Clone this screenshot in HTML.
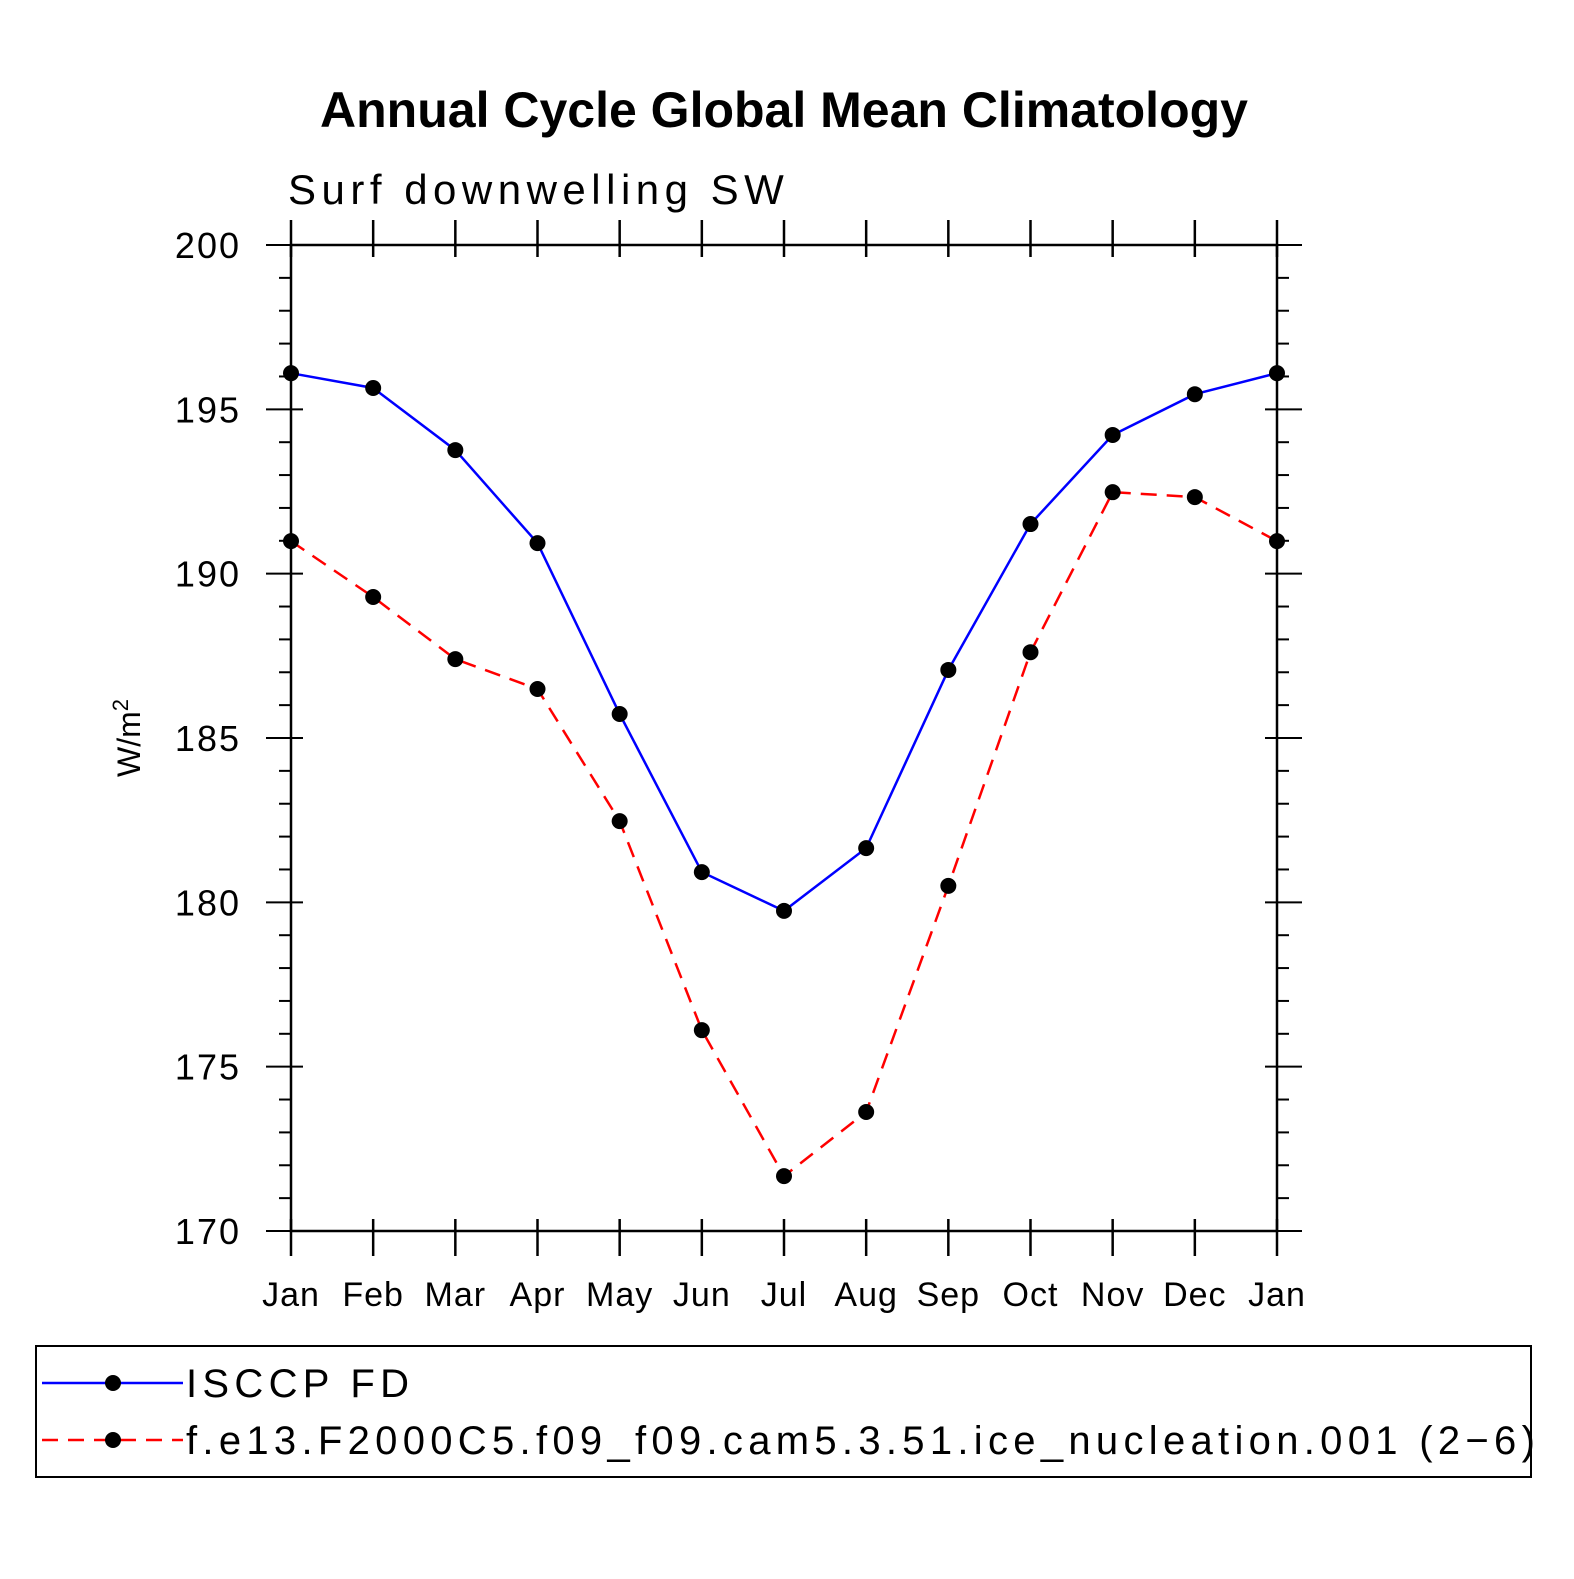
<!DOCTYPE html>
<html><head><meta charset="utf-8"><style>
html,body{margin:0;padding:0;background:#fff}
svg text{font-family:"Liberation Sans","DejaVu Sans",sans-serif}
</style></head><body>
<svg id="chart" width="1574" height="1574" viewBox="0 0 1574 1574" xmlns="http://www.w3.org/2000/svg">
<rect width="1574" height="1574" fill="#fff"/>
<text x="784" y="127" text-anchor="middle" font-size="50" font-weight="bold">Annual Cycle Global Mean Climatology</text>
<text x="288" y="204" font-size="42" letter-spacing="5.5">Surf downwelling SW</text>
<text transform="translate(140,738) rotate(-90)" text-anchor="middle" font-size="32">W/m<tspan dy="-12" font-size="22">2</tspan></text>
<g id="axes"></g>
<g id="series"></g>
<rect x="36" y="1346" width="1495" height="131" fill="none" stroke="#000" stroke-width="2"/>
<g>
<line x1="42" y1="1383" x2="183" y2="1383" stroke="#0000ff" stroke-width="2.5"/>
<circle cx="113" cy="1383" r="8" fill="#000"/>
<text x="186" y="1397" font-size="40" letter-spacing="5.3">ISCCP FD</text>
</g>
<g>
<line x1="42" y1="1440" x2="183" y2="1440" stroke="#ff0000" stroke-width="2.5" stroke-dasharray="16,10"/>
<circle cx="113" cy="1440" r="8" fill="#000"/>
<text x="186" y="1454" font-size="40" letter-spacing="5.3">f.e13.F2000C5.f09_f09.cam5.3.51.ice_nucleation.001 (2−6)</text>
</g>
</svg>
<script>
const months = ["Jan","Feb","Mar","Apr","May","Jun","Jul","Aug","Sep","Oct","Nov","Dec","Jan"];
const isccpValues = [196.1,195.65,193.76,190.93,185.73,180.92,179.74,181.65,187.07,191.51,194.22,195.46,196.1];
const camValues = [190.99,189.29,187.40,186.49,182.47,176.11,171.67,173.62,180.50,187.61,192.48,192.33,190.99];
const yTicks = [170,175,180,185,190,195,200];
const NS="http://www.w3.org/2000/svg";
const X0=291,X1=1277,Y0=1231,Y1=245,YMIN=170,YMAX=200;
function xs(i){return X0+(X1-X0)*i/(months.length-1);}
function ys(v){return Y0-(v-YMIN)/(YMAX-YMIN)*(Y0-Y1);}
function mk(tag,attrs,parent){const e=document.createElementNS(NS,tag);for(const k in attrs)e.setAttribute(k,attrs[k]);parent.appendChild(e);return e;}
const axes=document.getElementById('axes');
const frame=mk('rect',{x:X0,y:Y1,width:X1-X0,height:Y0-Y1,fill:'none',stroke:'#000','stroke-width':2.5},axes);


months.forEach((m,i)=>{
  const x=xs(i);
  mk('line',{x1:x,y1:Y0-12,x2:x,y2:Y0+25,stroke:'#000','stroke-width':2.5},axes);
  mk('line',{x1:x,y1:Y1+12,x2:x,y2:Y1-25,stroke:'#000','stroke-width':2.5},axes);
  const t=mk('text',{x:x,y:1306,'text-anchor':'middle','font-size':34,'letter-spacing':1},axes);
  t.textContent=m;
  
  
});
for(let v=YMIN;v<=YMAX;v++){
  const y=ys(v),major=(v%5===0);
  const L=major?25:12;
  mk('line',{x1:X0-L,y1:y,x2:X0+(major?12:0),y2:y,stroke:'#000','stroke-width':2},axes);
  mk('line',{x1:X1+L,y1:y,x2:X1-(major?12:0),y2:y,stroke:'#000','stroke-width':2},axes);
}
yTicks.forEach(v=>{
  const t=mk('text',{x:241,y:ys(v)+13,'text-anchor':'end','font-size':36,'letter-spacing':2},axes);
  t.textContent=v;
  
  
});
const ser=document.getElementById('series');
function draw(vals,color,dash,name){
  const g=mk('g',{},ser);
  
  
  const pts=vals.map((v,i)=>xs(i)+','+ys(v)).join(' ');
  const pl=mk('polyline',{points:pts,fill:'none',stroke:color,'stroke-width':2.5,'stroke-dasharray':dash},g);
  
  
  vals.forEach((v,i)=>{
    const c=mk('circle',{cx:xs(i),cy:ys(v),r:8,fill:'#000'},g);
    
    
  });
}
draw(isccpValues,'#0000ff','none','isccp-series');
draw(camValues,'#ff0000','16,10','cam5-series');
</script>
</body></html>
